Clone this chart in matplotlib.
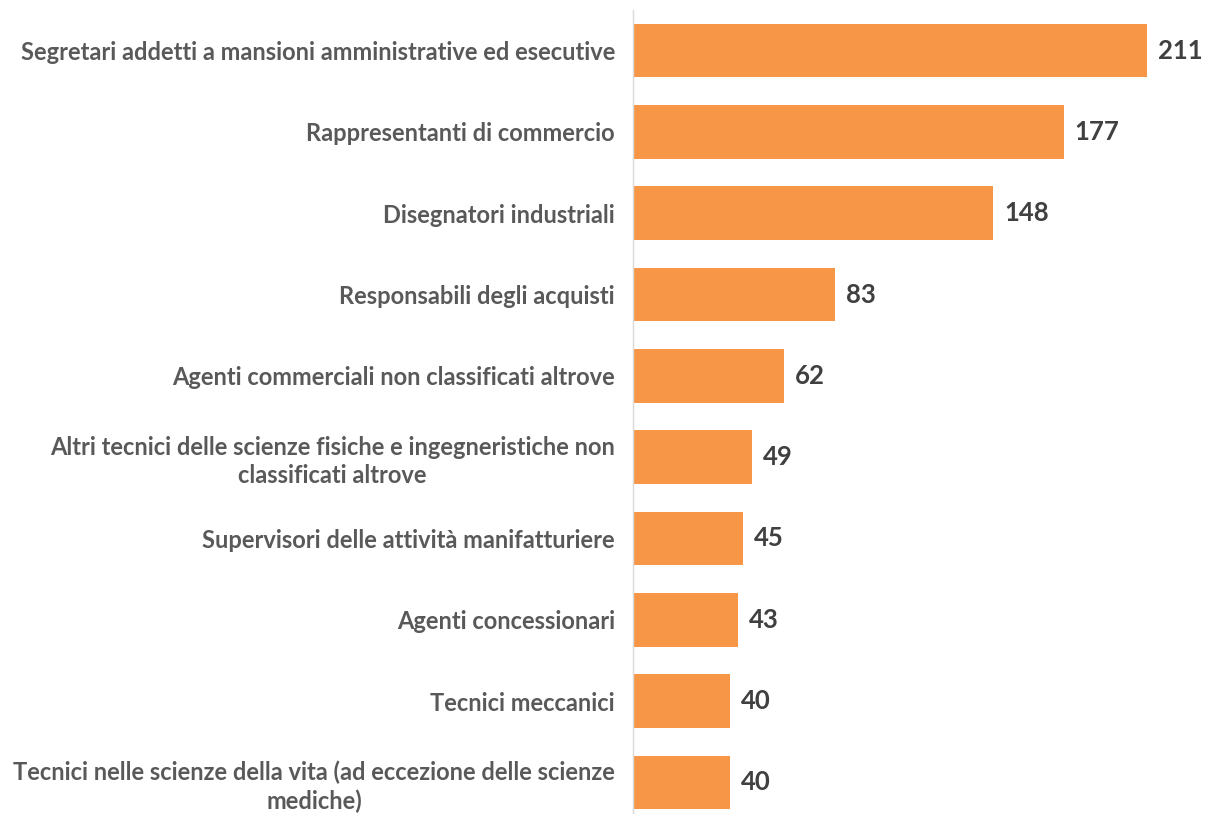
import matplotlib.pyplot as plt

# dati
categorie = [
    "Segretari addetti a mansioni amministrative ed esecutive",
    "Rappresentanti di commercio",
    "Disegnatori industriali",
    "Responsabili degli acquisti",
    "Agenti commerciali non classificati altrove",
    "Altri tecnici delle scienze fisiche e ingegneristiche non\nclassificati altrove",
    "Supervisori delle attività manifatturiere",
    "Agenti concessionari",
    "Tecnici meccanici",
    "Tecnici nelle scienze della vita (ad eccezione delle scienze\nmediche)",
]
valori = [211, 177, 148, 83, 62, 49, 45, 43, 40, 40]

W, H = 1205, 814
fig = plt.figure(figsize=(W / 100, H / 100), dpi=100)
# asse: x=0 a 633px, 10 righe da ~81px, leggermente tagliato in basso
ax = fig.add_axes([633 / W, -9 / H, (W - 633) / W, 813 / H])

pos = list(range(len(categorie)))
ax.barh(pos, valori, height=0.66, color='#F79646')
ax.set_ylim(len(categorie) - 0.5, -0.5)
ax.set_xlim(0, 235)

for y, v in zip(pos, valori):
    ax.text(v + 4.5, y, str(v), va='center', ha='left', fontsize=18.5,
            fontweight='bold', color='#404040', family='Lato')

ax.set_yticks(pos)
ax.set_yticklabels(categorie, fontsize=17, fontweight='bold', color='#595959',
                   family='Lato', multialignment='center', linespacing=1.25)
ax.tick_params(axis='y', length=0, pad=13)
ax.set_xticks([])
for s in ['top', 'right', 'bottom']:
    ax.spines[s].set_visible(False)
ax.spines['left'].set_color('#D9D9D9')
ax.spines['left'].set_linewidth(1)

fig.savefig('out.png', dpi=100)
